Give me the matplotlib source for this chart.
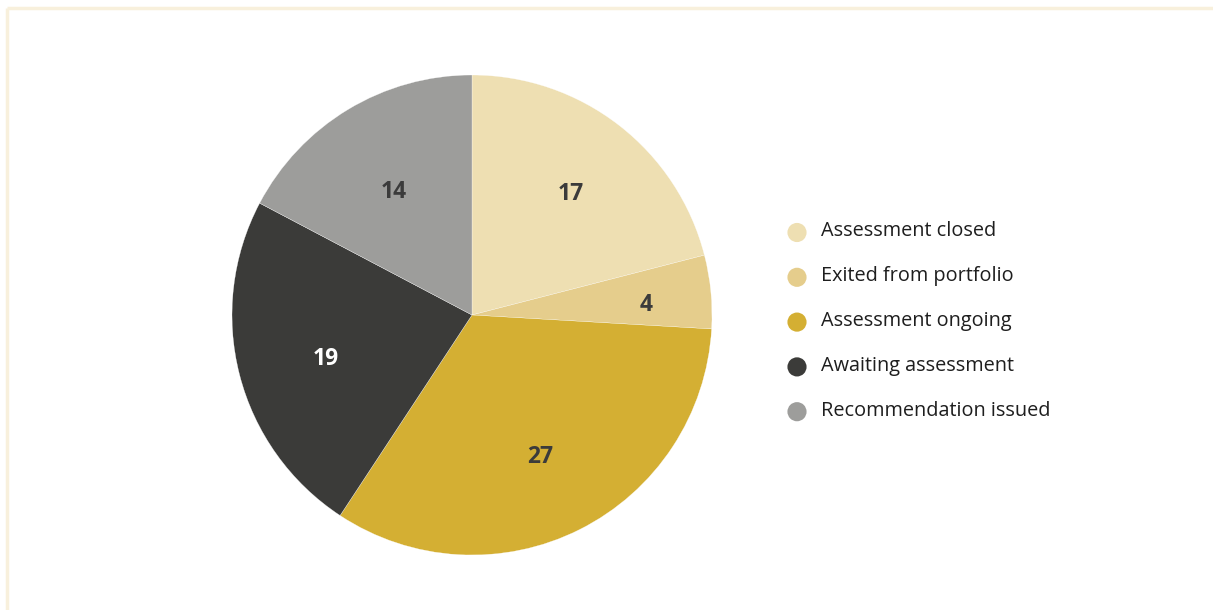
import matplotlib.pyplot as plt
import numpy as np

plt.rcParams["font.family"] = ["Open Sans", "DejaVu Sans"]

categories = [
    "Assessment closed",
    "Exited from portfolio",
    "Assessment ongoing",
    "Awaiting assessment",
    "Recommendation issued",
]
values = [17, 4, 27, 19, 14]
colors = ["#eedfb2", "#e5cd8c", "#d4af33", "#3b3b39", "#9d9d9b"]
label_colors = ["#3b3b3b", "#3b3b3b", "#3b3b3b", "#ffffff", "#3b3b3b"]
label_dist = [0.67, 0.73, 0.63, 0.63, 0.63]

W, H = 1213, 610
fig = plt.figure(figsize=(W / 100, H / 100), dpi=100)

# overlay in pixel coords for frame + legend
ov = fig.add_axes([0, 0, 1, 1])
ov.set_xlim(0, W)
ov.set_ylim(H, 0)
ov.axis("off")
frame_c = "#f8f0dc"
ov.plot([7, W + 5], [8, 8], color=frame_c, lw=2.5, solid_capstyle="butt")
ov.plot([7, 7], [8, H + 5], color=frame_c, lw=2.5, solid_capstyle="butt")

# pie
cx, cy, r = 472, 315, 240
ax = fig.add_axes([(cx - r) / W, (H - cy - r) / H, 2 * r / W, 2 * r / H])
wedges, _ = ax.pie(
    values,
    colors=colors,
    startangle=90,
    counterclock=False,
    radius=1.0,
    wedgeprops=dict(edgecolor="white", linewidth=0.2),
)
ax.set_xlim(-1, 1)
ax.set_ylim(-1, 1)
ax.set_aspect("equal")

for w, v, tc, d in zip(wedges, values, label_colors, label_dist):
    ang = np.deg2rad((w.theta1 + w.theta2) / 2)
    ax.text(d * np.cos(ang), d * np.sin(ang) - 0.027, str(v), ha="center", va="center",
            fontsize=16.5, fontweight="bold", color=tc)

# legend
lx, ly0, dy = 797, 232.5, 44.8
for i, (name, c) in enumerate(zip(categories, colors)):
    y = ly0 + i * dy
    ov.scatter([lx], [y], s=190, color=c, edgecolors="none")
    ov.text(lx + 24, y - 1, name, ha="left", va="center", fontsize=14.3, color="#1e1e1e")

fig.savefig("out.png", dpi=100)
